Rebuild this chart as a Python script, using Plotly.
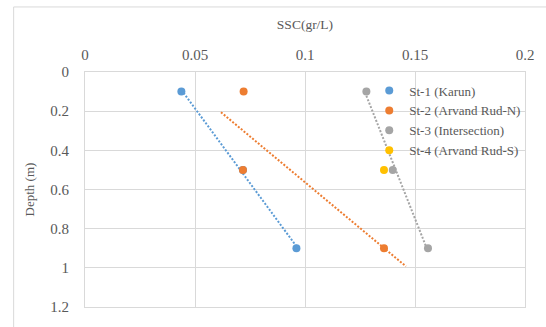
import numpy as np
import plotly.graph_objects as go

depth = [0.1, 0.5, 0.9]
st1 = [0.0438, 0.0718, 0.0961]
st2 = [0.0721, 0.0718, 0.1359]
st3 = [0.1279, 0.1399, 0.1559]
st4_ssc = [0.1359]
st4_depth = [0.5]

names = ["St-1 (Karun)", "St-2 (Arvand Rud-N)", "St-3 (Intersection)", "St-4 (Arvand Rud-S)"]
colors = ["#5B9BD5", "#ED7D31", "#A5A5A5", "#FFC000"]
# trendline forecast extension (backward, forward) in x units
trend_ext = [(0.0, 0.0), (0.01, 0.01), (0.0, 0.0)]

fig = go.Figure()

series = [(st1, depth), (st2, depth), (st3, depth)]
for (xs, ys), c, ext in zip(series, colors[:3], trend_ext):
    xs_a = np.array(xs); ys_a = np.array(ys)
    slope, inter = np.polyfit(xs_a, ys_a, 1)
    x0 = xs_a.min() - ext[0]; x1 = xs_a.max() + ext[1]
    fig.add_trace(go.Scatter(x=[x0, x1], y=[slope * x0 + inter, slope * x1 + inter],
                             mode="lines", line=dict(color=c, width=2, dash="2px,1.7px"),
                             showlegend=False, hoverinfo="skip"))

all_series = [(st1, depth), (st2, depth), (st3, depth), (st4_ssc, st4_depth)]
for (xs, ys), n, c in zip(all_series, names, colors):
    fig.add_trace(go.Scatter(x=xs, y=ys, mode="markers", name=n,
                             marker=dict(color=c, size=8)))

serif = "Liberation Serif"
fig.update_layout(
    width=546, height=327,
    margin=dict(l=85, r=17, t=72, b=13),
    paper_bgcolor="white", plot_bgcolor="white",
    font=dict(family=serif, color="#595959", size=15),
    showlegend=True,
    legend=dict(x=0.646, y=0.985, xanchor="left", yanchor="top", bgcolor="rgba(0,0,0,0)",
                font=dict(family=serif, size=13, color="#595959"),
                itemwidth=30, tracegroupgap=0),
    xaxis=dict(side="top", range=[0, 0.2], dtick=0.05, showgrid=True, gridcolor="#D9D9D9",
               zeroline=False, showline=True, linecolor="#D9D9D9", mirror=True,
               ticks="", ticklabelstandoff=5, tickfont=dict(family=serif, size=15),
               title=dict(text="SSC(gr/L)", standoff=14, font=dict(family=serif, size=13.5))),
    yaxis=dict(range=[1.2, 0], dtick=0.2, showgrid=True, gridcolor="#D9D9D9",
               zeroline=False, showline=True, linecolor="#D9D9D9", mirror=True,
               ticks="", ticklabelstandoff=12, tickfont=dict(family=serif, size=15),
               title=dict(text="Depth (m)", standoff=12, font=dict(family=serif, size=13))),
    shapes=[dict(type="rect", xref="paper", yref="paper",
                 x0=-72/444, x1=1.2, y0=-0.3, y1=1 + 67/242,
                 line=dict(color="#D9D9D9", width=1), fillcolor="rgba(0,0,0,0)", layer="below")],
)

fig.write_html("out.html", config={"displayModeBar": False},
               post_script="document.body.style.margin='0';")
